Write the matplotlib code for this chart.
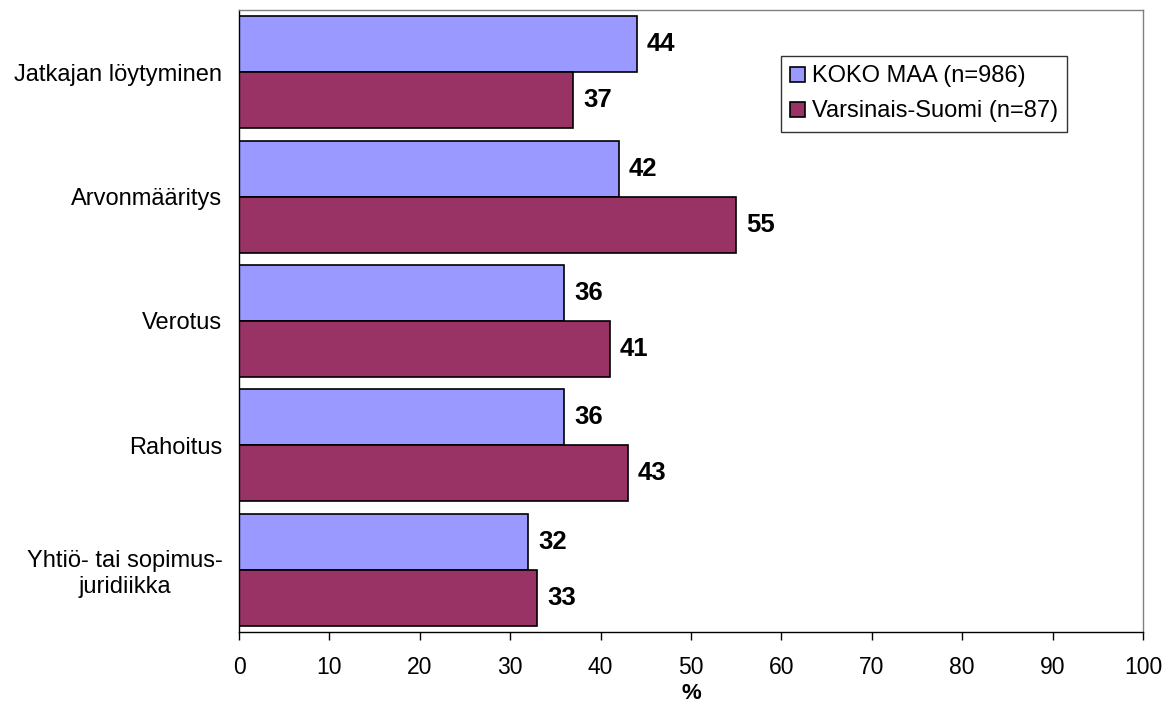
import matplotlib
matplotlib.use("Agg")
import matplotlib.pyplot as plt
import numpy as np

plt.rcParams['font.family'] = ['Liberation Sans', 'DejaVu Sans']

categories = ["Jatkajan löytyminen", "Arvonmääritys", "Verotus", "Rahoitus",
              "Yhtiö- tai sopimus-\njuridiikka"]
series_names = ["KOKO MAA (n=986)", "Varsinais-Suomi (n=87)"]
koko_maa = [44, 42, 36, 36, 32]
varsinais_suomi = [37, 55, 41, 43, 33]
xticks = [0, 10, 20, 30, 40, 50, 60, 70, 80, 90, 100]
colors = ["#9999FF", "#993366"]

fig = plt.figure(figsize=(11.73, 7.07), dpi=100)
ax = fig.add_axes([239/1173, 1-632/707, (1143-239)/1173, (632-10)/707])

n = len(categories)
y = np.arange(n)
h = 0.45
b1 = ax.barh(y - h/2, koko_maa, height=h, color=colors[0], edgecolor="black",
             linewidth=1.2, label=series_names[0])
b2 = ax.barh(y + h/2, varsinais_suomi, height=h, color=colors[1], edgecolor="black",
             linewidth=1.2, label=series_names[1])
for bars, vals in ((b1, koko_maa), (b2, varsinais_suomi)):
    for bar, v in zip(bars, vals):
        ax.text(v + 1.1, bar.get_y() + bar.get_height()/2, str(v), va="center",
                ha="left", fontsize=18.5, fontweight="bold")

ax.set_ylim(n - 0.5, -0.5)
ax.set_xlim(0, 100)
ax.set_xticks(xticks)
ax.set_xticklabels([str(t) for t in xticks], fontsize=16.5)
ax.set_yticks(y)
ax.set_yticklabels(categories, fontsize=17, ha="right", multialignment="center")
ax.tick_params(axis="y", length=0, pad=12)
ax.tick_params(axis="x", direction="out", length=6, width=1, pad=11)
ax.set_xlabel("%", fontsize=16, fontweight="bold", labelpad=3)

for s in ("top", "right"):
    ax.spines[s].set_color("#808080")
    ax.spines[s].set_linewidth(1)
for s in ("left", "bottom"):
    ax.spines[s].set_color("black")
    ax.spines[s].set_linewidth(1)

leg = ax.legend(loc="upper left", bbox_to_anchor=((781-239)/904, (632-56)/622),
                frameon=True, fancybox=False, fontsize=17, handlelength=0.6,
                handleheight=0.6, handletextpad=0.3, borderpad=0.4, labelspacing=0.55,
                borderaxespad=0)
leg.get_frame().set_edgecolor("black")
leg.get_frame().set_linewidth(1)

fig.savefig("out.png", dpi=100)
